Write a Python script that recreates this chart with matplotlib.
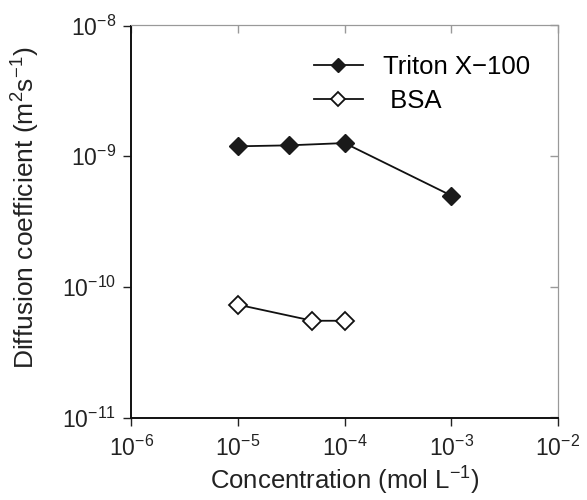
import numpy as np
import matplotlib
matplotlib.use('Agg')
import matplotlib.pyplot as plt
from matplotlib.ticker import LogLocator, NullLocator, NullFormatter

plt.rcParams['font.family'] = ['Liberation Sans', 'DejaVu Sans']
plt.rcParams['mathtext.fontset'] = 'custom'
plt.rcParams['mathtext.rm'] = 'Liberation Sans'
plt.rcParams['mathtext.it'] = 'Liberation Sans:italic'
plt.rcParams['mathtext.bf'] = 'Liberation Sans:bold'

# data
triton_conc = [1e-5, 3e-5, 1e-4, 1e-3]
triton_diff = [1.19e-9, 1.21e-9, 1.26e-9, 5.0e-10]
bsa_conc = [1e-5, 5e-5, 1e-4]
bsa_diff = [7.3e-11, 5.5e-11, 5.5e-11]

fig = plt.figure(figsize=(5.87, 5.00), dpi=100)
ax = fig.add_axes([0.224, 0.165, 0.726, 0.784])

ax.plot(triton_conc, triton_diff, color='#111111', linewidth=1.3,
        marker='D', markersize=9, markerfacecolor='#1a1a1a',
        markeredgecolor='#1a1a1a', label='Triton X\u2212100')
ax.plot(bsa_conc, bsa_diff, color='#111111', linewidth=1.3,
        marker='D', markersize=9, markerfacecolor='white',
        markeredgecolor='#111111', markeredgewidth=1.3, label=' BSA')

ax.set_xscale('log')
ax.set_yscale('log')
ax.set_xlim(1e-6, 1e-2)
ax.set_ylim(1e-11, 1e-8)
ax.xaxis.set_major_locator(LogLocator(base=10, numticks=10))
ax.yaxis.set_major_locator(LogLocator(base=10, numticks=10))
ax.xaxis.set_minor_locator(NullLocator())
ax.yaxis.set_minor_locator(NullLocator())

ax.set_xlabel('Concentration (mol L$^{-1}$)', fontsize=18.5, color='#222222',
              labelpad=3)
ax.set_ylabel('Diffusion coefficient (m$^{2}$s$^{-1}$)', fontsize=19,
              color='#222222')
ax.yaxis.set_label_coords(-0.211, 0.535)

ax.tick_params(axis='both', which='major', labelsize=16.5, direction='out',
               length=6, width=1.0, colors='#222222', pad=5)
ax.tick_params(axis='x', pad=7)

# inward grey ticks on the top and right frame
top = ax.secondary_xaxis('top')
top.xaxis.set_major_locator(LogLocator(base=10, numticks=10))
top.xaxis.set_minor_locator(NullLocator())
top.xaxis.set_major_formatter(NullFormatter())
top.tick_params(direction='in', length=6, width=1.0, colors='#999999')
right = ax.secondary_yaxis('right')
right.yaxis.set_major_locator(LogLocator(base=10, numticks=10))
right.yaxis.set_minor_locator(NullLocator())
right.yaxis.set_major_formatter(NullFormatter())
right.tick_params(direction='in', length=6, width=1.0, colors='#999999')
top.spines['top'].set_color('#999999')
right.spines['right'].set_color('#999999')

ax.spines['left'].set_linewidth(1.4)
ax.spines['bottom'].set_linewidth(1.4)
ax.spines['left'].set_color('#111111')
ax.spines['bottom'].set_color('#111111')
ax.spines['top'].set_color('#999999')
ax.spines['right'].set_color('#999999')

ax.legend(loc='upper right', frameon=False, fontsize=18.5, markerscale=0.75,
          handlelength=1.9, handletextpad=0.8, labelspacing=0.4,
          bbox_to_anchor=(0.99, 0.985))

fig.savefig('out.png', dpi=100)
